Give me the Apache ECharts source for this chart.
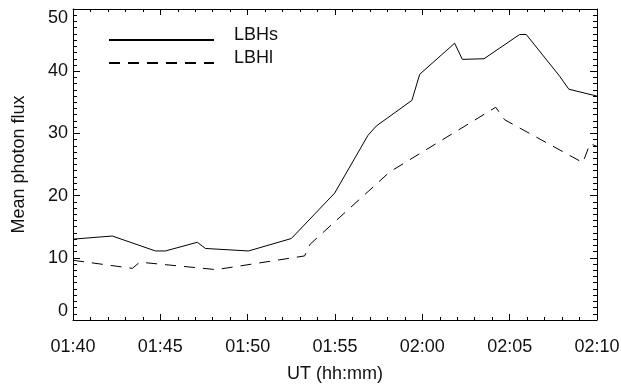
<!DOCTYPE html>
<html>
<head>
<meta charset="utf-8">
<script src="https://cdn.jsdelivr.net/npm/echarts@6/dist/echarts.min.js"></script>
<style>html,body{margin:0;padding:0;background:#fff}#c{width:621px;height:386px}</style>
</head>
<body>
<div id="c"></div>
<script>
// UT times in minutes of day (01:40 = 100)
var lbhsTime = [100.0, 102.25, 104.72, 105.29, 107.12, 107.58, 110.05, 112.5, 114.98, 116.89, 117.37, 119.4, 119.85, 121.85, 122.29, 123.53, 125.57, 125.95, 127.86, 128.39, 130.0];
var lbhsFlux = [13.0, 13.5, 11.1, 11.1, 12.5, 11.5, 11.1, 13.1, 20.4, 29.7, 31.2, 35.3, 39.5, 44.5, 41.9, 42.0, 45.9, 45.9, 39.2, 37.1, 36.0];
var lbhlTime = [100.0, 103.4, 103.82, 108.2, 113.26, 113.58, 118.13, 124.2, 124.71, 129.19, 129.6, 130.0];
var lbhlFlux = [9.6, 8.3, 9.3, 8.1, 10.3, 12.2, 23.8, 34.2, 32.2, 25.3, 28.35, 27.9];
var seriesNames = ['LBHs', 'LBHl'];
var yTitle = 'Mean photon flux';
var xTitle = 'UT (hh:mm)';

function pairs(t, v) { return t.map(function (x, i) { return [x, v[i]]; }); }
function fmtUT(v) {
  var h = Math.floor(v / 60), m = Math.round(v - h * 60);
  return (h < 10 ? '0' : '') + h + ':' + (m < 10 ? '0' : '') + m;
}
var FONT = 'Liberation Sans';
var TXT = { fontFamily: FONT, fontSize: 18, color: '#111' };

function xAx(pos, labels) {
  return {
    type: 'value', position: pos, min: 100, max: 130, interval: 5,
    axisLine: { show: true, onZero: false, lineStyle: { color: '#000', width: 1 } },
    axisTick: { show: true, inside: true, length: 6, lineStyle: { color: '#000' } },
    minorTick: { show: true, splitNumber: 5, length: 3, lineStyle: { color: '#000' } },
    splitLine: { show: false }, minorSplitLine: { show: false },
    axisLabel: labels ? Object.assign({ show: true, margin: 18, formatter: fmtUT }, TXT) : { show: false },
    name: labels ? xTitle : '', nameLocation: 'middle', nameGap: 45,
    nameTextStyle: TXT
  };
}
function yAx(pos, labels) {
  return {
    type: 'value', position: pos, min: 0, max: 50, interval: 10,
    axisLine: { show: true, onZero: false, lineStyle: { color: '#000', width: 1 } },
    axisTick: { show: true, inside: true, length: 7, lineStyle: { color: '#000' } },
    minorTick: { show: true, splitNumber: 10, length: 4, lineStyle: { color: '#000' } },
    splitLine: { show: false }, minorSplitLine: { show: false },
    axisLabel: labels ? Object.assign({ show: true, margin: 5, verticalAlignMaxLabel: 'top', verticalAlignMinLabel: 'bottom' }, TXT) : { show: false },
    name: labels ? yTitle : '', nameLocation: 'middle', nameGap: 45,
    nameTextStyle: TXT
  };
}

var chart = echarts.init(document.getElementById('c'), null, { renderer: 'canvas' });
chart.setOption({
  animation: false,
  backgroundColor: '#fff',
  grid: { left: 73, right: 24, top: 9, bottom: 66, containLabel: false, outerBoundsMode: 'none' },
  xAxis: [xAx('bottom', true), xAx('top', false)],
  yAxis: [yAx('left', true), yAx('right', false)],
  legend: {
    data: seriesNames,
    orient: 'vertical', left: 103, top: 21,
    itemWidth: 105, itemHeight: 14, itemGap: -4,
    itemStyle: { color: 'transparent', borderColor: 'transparent', borderWidth: 0, opacity: 0 },
    formatter: function (name) { return '{t|' + name + '}\n{s|}'; },
    textStyle: Object.assign({
      padding: [0, 0, 0, 15],
      rich: {
        t: { fontFamily: FONT, fontSize: 18, color: '#111', lineHeight: 18 },
        s: { lineHeight: 10, fontSize: 8 }
      }
    }, TXT)
  },
  series: [
    { name: seriesNames[0], type: 'line', xAxisIndex: 0, yAxisIndex: 0, symbol: 'none', showSymbol: false,
      data: pairs(lbhsTime, lbhsFlux), lineStyle: { color: '#000', width: 1, type: 'solid' }, itemStyle: { color: '#000' } },
    { name: seriesNames[1], type: 'line', xAxisIndex: 0, yAxisIndex: 0, symbol: 'none', showSymbol: false,
      data: pairs(lbhlTime, lbhlFlux), lineStyle: { color: '#000', width: 1, type: [11, 8] }, itemStyle: { color: '#000' } }
  ]
});
</script>
</body>
</html>
